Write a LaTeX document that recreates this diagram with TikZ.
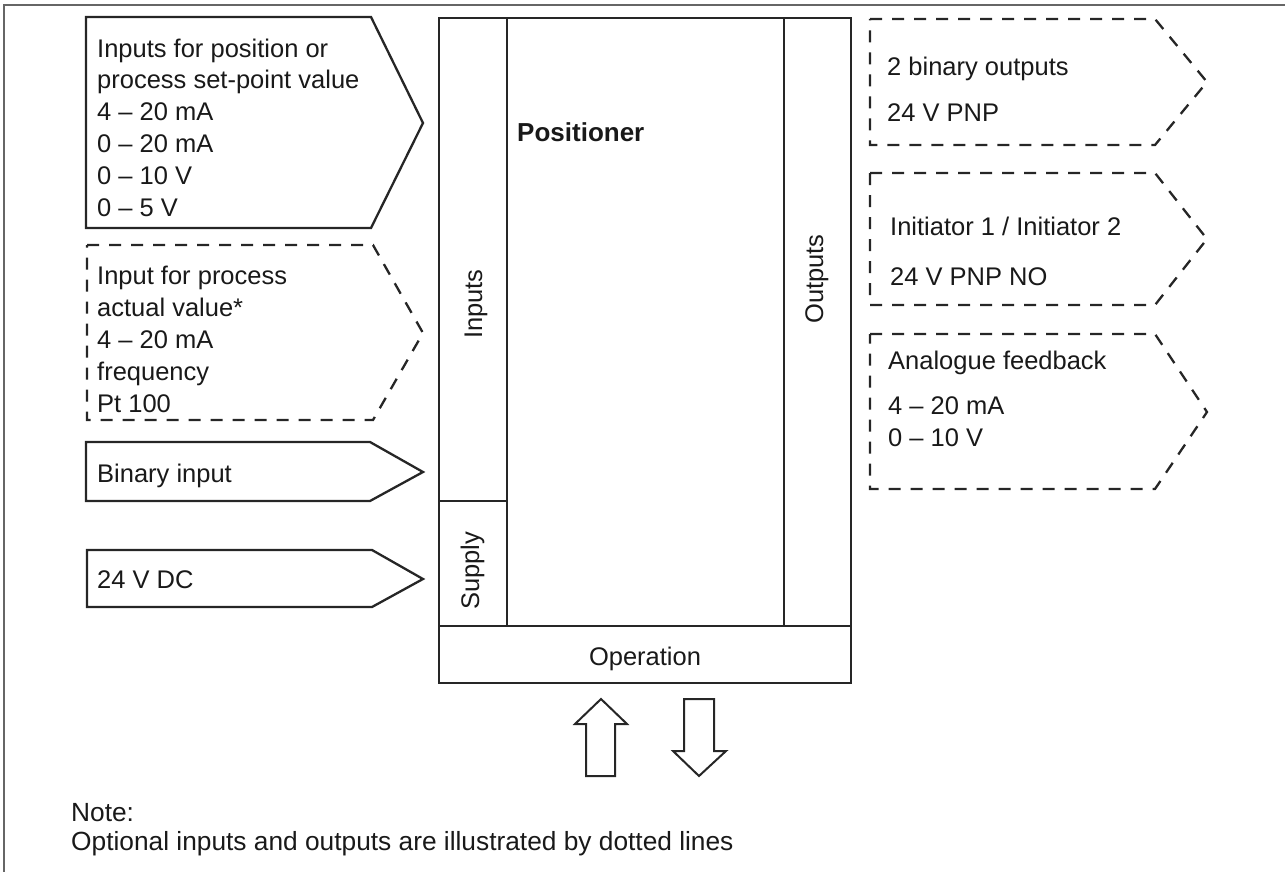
\documentclass[tikz,border=0pt]{standalone}
\usepackage{fontspec}
\setmainfont{Liberation Sans}
\newcommand{\txtfont}{\fontsize{25.5}{30}\selectfont}
\newcommand{\notefont}{\fontsize{26.3}{30}\selectfont}
\tikzset{
  solidbox/.style={draw=black!85, line width=2.3pt},
  optbox/.style={draw=black!85, line width=2.3pt, dash pattern=on 12pt off 10pt},
  lbl/.style={anchor=base west, inner sep=0pt, font=\txtfont, text=black!90},
  vlbl/.style={anchor=base, inner sep=0pt, font=\txtfont, rotate=90, text=black!90},
  frame/.style={draw=black!60, line width=1.8pt}
}
\begin{document}
\begin{tikzpicture}[x=1pt,y=-1pt]
\useasboundingbox (0,0) rectangle (1285,872);
% outer frame
\draw[frame] (4,872) -- (4,5) -- (1285,5);

% left input boxes
\draw[solidbox] (86,17) -- (371,17) -- (423,123) -- (371,228) -- (86,228) -- cycle;
\node[lbl] (i1a) at (97,58) {Inputs for position or};
\node[lbl] (i1b) at (97,89) {process set-point value};
\node[lbl] (i1c) at (97,121) {4 -- 20 mA};
\node[lbl] (i1d) at (97,153) {0 -- 20 mA};
\node[lbl] (i1e) at (97,184) {0 -- 10 V};
\node[lbl] (i1f) at (97,216) {0 -- 5 V};

\draw[optbox] (87,245) -- (373,245) -- (423,333) -- (373,420) -- (87,420) -- cycle;
\node[lbl] (i2a) at (97,284) {Input for process};
\node[lbl] (i2b) at (97,316) {actual value*};
\node[lbl] (i2c) at (97,348) {4 -- 20 mA};
\node[lbl] (i2d) at (97,380) {frequency};
\node[lbl] (i2e) at (97,412) {Pt 100};

\draw[solidbox] (86,442) -- (370,442) -- (423,472) -- (370,501) -- (86,501) -- cycle;
\node[lbl] (i3) at (97,482) {Binary input};

\draw[solidbox] (87,550) -- (372,550) -- (423,579) -- (372,607) -- (87,607) -- cycle;
\node[lbl] (i4) at (97,588) {24 V DC};

% main block
\draw[solidbox] (439,18) rectangle (851,683);
\draw[solidbox] (507,18) -- (507,626);
\draw[solidbox] (784,18) -- (784,626);
\draw[solidbox] (439,626) -- (851,626);
\draw[solidbox] (439,501) -- (507,501);
\node[anchor=base west, inner sep=0pt, font=\fontsize{26}{30}\selectfont\bfseries, text=black!90] (pos) at (517,142) {Positioner};
\node[vlbl] (inl) at (482,304) {Inputs};
\node[vlbl] (sup) at (479,571) {Supply};
\node[vlbl] (outl) at (823,279) {Outputs};
\node[anchor=base, inner sep=0pt, font=\txtfont, text=black!90] (op) at (645,665) {Operation};

% operation arrows
\draw[solidbox, line width=2pt] (586,776) -- (586,724) -- (575,724) -- (601,699) -- (627,724) -- (615,724) -- (615,776) -- cycle;
\draw[solidbox, line width=2pt] (684,699) -- (714,699) -- (714,751) -- (726,751) -- (699,776) -- (673,751) -- (684,751) -- cycle;

% right output boxes
\draw[optbox] (870,19) -- (1155,19) -- (1207,82) -- (1155,145) -- (870,145) -- cycle;
\node[lbl] (o1a) at (887,76) {2 binary outputs};
\node[lbl] (o1b) at (887,122) {24 V PNP};

\draw[optbox] (870,173) -- (1155,173) -- (1207,239) -- (1155,305) -- (870,305) -- cycle;
\node[lbl] (o2a) at (890,235) {Initiator 1 / Initiator 2};
\node[lbl] (o2b) at (890,285) {24 V PNP NO};

\draw[optbox] (870,334) -- (1155,334) -- (1207,412) -- (1155,489) -- (870,489) -- cycle;
\node[lbl] (o3a) at (888,369) {Analogue feedback};
\node[lbl] (o3b) at (888,414) {4 -- 20 mA};
\node[lbl] (o3c) at (888,446) {0 -- 10 V};

% note
\node[anchor=base west, inner sep=0pt, font=\notefont, text=black!90] (n1) at (71,821) {Note:};
\node[anchor=base west, inner sep=0pt, font=\notefont, text=black!90] (n2) at (71,850) {Optional inputs and outputs are illustrated by dotted lines};
\end{tikzpicture}
\end{document}
